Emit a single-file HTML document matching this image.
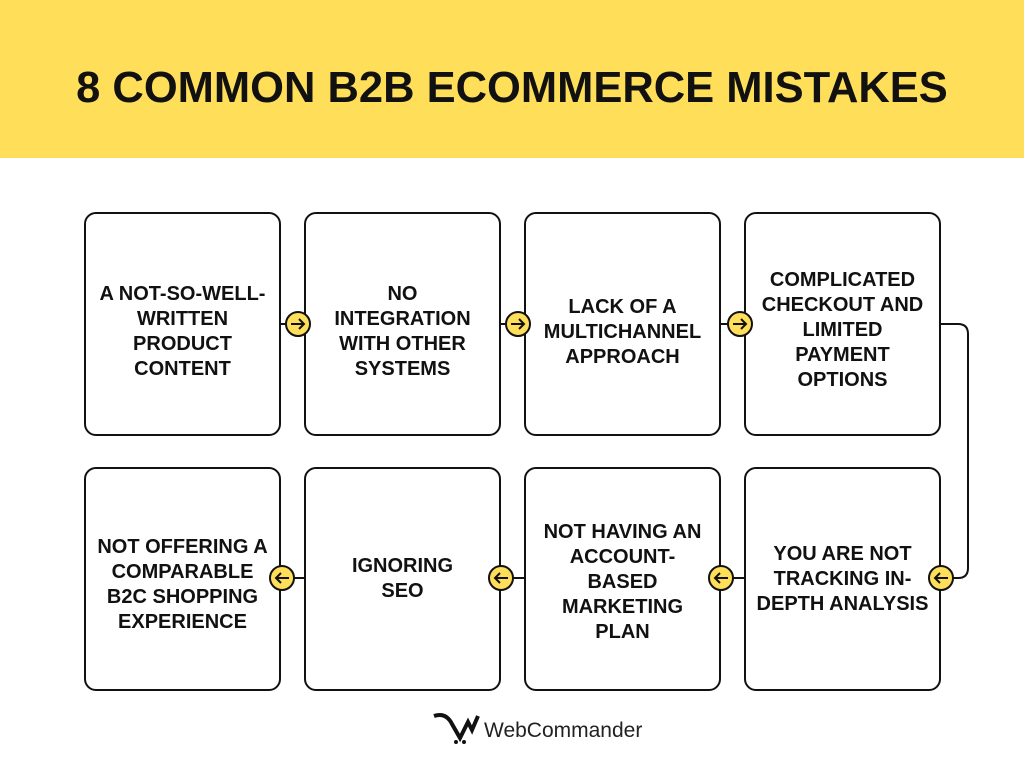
<!DOCTYPE html>
<html><head><meta charset="utf-8"><style>
body{margin:0;width:1024px;height:768px;background:#fff;position:relative;overflow:hidden;font-family:"Liberation Sans",sans-serif}
.band{position:absolute;left:0;top:0;width:1024px;height:158px;background:#FFDE59}
.title{position:absolute;left:0;top:64px;width:1024px;text-align:center;font-size:43.5px;font-weight:bold;color:#111}
.box{position:absolute;border:2px solid #111;border-radius:12px;display:flex;align-items:center;justify-content:center;text-align:center;font-weight:bold;font-size:20px;line-height:25px;color:#111;box-sizing:border-box;padding:0 4px;white-space:nowrap}
.r1{padding-top:16px}.r2{padding-top:6px}
svg{position:absolute;left:0;top:0}
.logo{position:absolute;left:484px;top:719px;font-size:21px;color:#222}
</style></head><body>
<div class="band"></div>
<div class="title">8 COMMON B2B ECOMMERCE MISTAKES</div>
<div class="box r1" style="left:84px;top:212px;width:197px;height:224px">A NOT-SO-WELL-<br>WRITTEN<br>PRODUCT<br>CONTENT</div>
<div class="box r1" style="left:304px;top:212px;width:197px;height:224px">NO<br>INTEGRATION<br>WITH OTHER<br>SYSTEMS</div>
<div class="box r1" style="left:524px;top:212px;width:197px;height:224px">LACK OF A<br>MULTICHANNEL<br>APPROACH</div>
<div class="box" style="left:744px;top:212px;width:197px;height:224px;padding-top:12px">COMPLICATED<br>CHECKOUT AND<br>LIMITED<br>PAYMENT<br>OPTIONS</div>
<div class="box r2" style="left:84px;top:467px;width:197px;height:224px;padding-top:12px">NOT OFFERING A<br>COMPARABLE<br>B2C SHOPPING<br>EXPERIENCE</div>
<div class="box" style="left:304px;top:467px;width:197px;height:224px">IGNORING<br>SEO</div>
<div class="box r2" style="left:524px;top:467px;width:197px;height:224px">NOT HAVING AN<br>ACCOUNT-<br>BASED<br>MARKETING<br>PLAN</div>
<div class="box" style="left:744px;top:467px;width:197px;height:224px">YOU ARE NOT<br>TRACKING IN-<br>DEPTH ANALYSIS</div>
<svg width="1024" height="768">
<g stroke="#111" stroke-width="2" fill="none">
<path d="M940 324 H958 Q968 324 968 334 V568 Q968 578 958 578 H945"/>
<line x1="281" y1="324" x2="304" y2="324"/><line x1="501" y1="324" x2="524" y2="324"/><line x1="721" y1="324" x2="744" y2="324"/>
<line x1="281" y1="578" x2="304" y2="578"/><line x1="501" y1="578" x2="524" y2="578"/><line x1="721" y1="578" x2="744" y2="578"/>
</g>
<g fill="#FFDE59" stroke="#111" stroke-width="2">
<circle cx="298" cy="324" r="12"/><circle cx="518" cy="324" r="12"/><circle cx="740" cy="324" r="12"/>
<circle cx="282" cy="578" r="12"/><circle cx="501" cy="578" r="12"/><circle cx="721" cy="578" r="12"/><circle cx="941" cy="578" r="12"/>
</g>
<g stroke="#111" stroke-width="2" fill="none">
<path d="M291 324 H304 M299 319 L304 324 L299 329"/>
<path d="M511 324 H524 M519 319 L524 324 L519 329"/>
<path d="M733 324 H746 M741 319 L746 324 L741 329"/>
<path d="M289 578 H276 M281 573 L276 578 L281 583"/>
<path d="M508 578 H495 M500 573 L495 578 L500 583"/>
<path d="M728 578 H715 M720 573 L715 578 L720 583"/>
<path d="M948 578 H935 M940 573 L935 578 L940 583"/>
</g>
<path d="M434 716 Q446 712 452 724 L460 738 L468 722 L472 730 L478 716" stroke="#111" stroke-width="4" fill="none"/>
<circle cx="456" cy="742" r="2" fill="#111"/><circle cx="464" cy="742" r="2" fill="#111"/>
</svg>
<div class="logo">WebCommander</div>
</body></html>
